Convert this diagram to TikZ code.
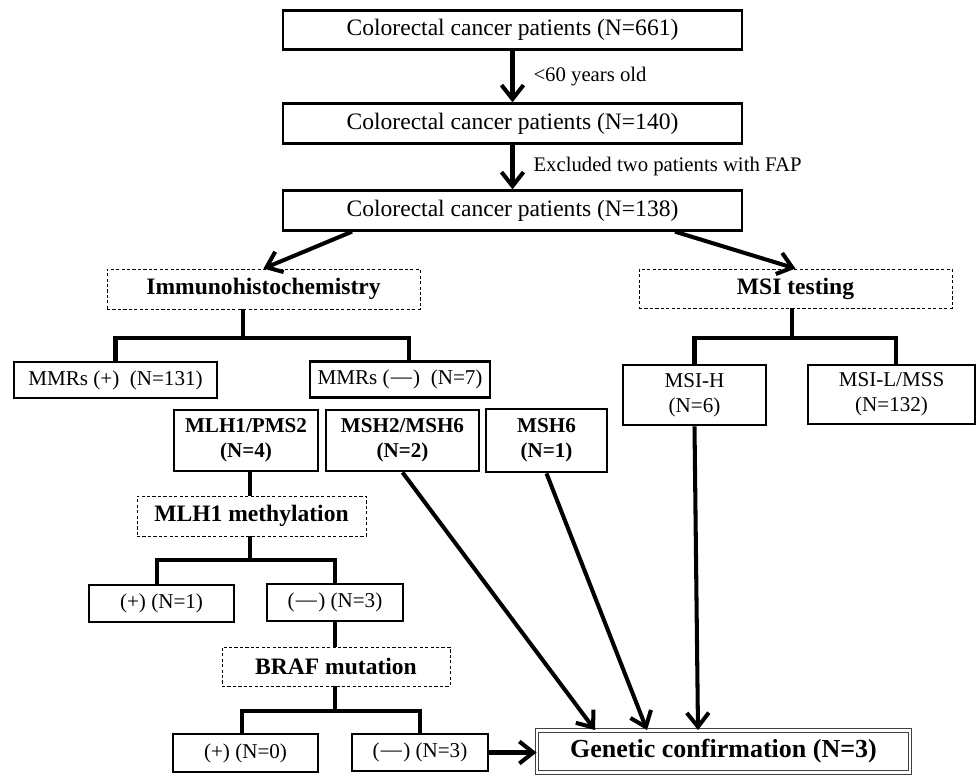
\documentclass[tikz,border=0pt]{standalone}
\usepackage{fontspec}
\setmainfont{Liberation Serif}
\usepackage{tikz}
\usetikzlibrary{shapes,arrows.meta,positioning,calc}
\newcommand{\negsign}{(\kern0.06em\raisebox{0.07em}{—}\kern0.06em)}

\begin{document}
\begin{tikzpicture}[
  x=0.2mm, y=-0.2mm,
  box/.style={rectangle, draw, line width=1.6pt, inner sep=0pt, align=center, font=\fontsize{12}{14.2}\selectfont},
  bigbox/.style={box, minimum width=91.8mm, minimum height=7.9mm, font=\fontsize{13.4}{16}\selectfont},
  bbox/.style={box, font=\bfseries\fontsize{12}{14.2}\selectfont},
  testbox/.style={rectangle, draw, line width=0.5pt, dash pattern=on 1.8pt off 1.3pt, inner sep=0pt, align=center, font=\bfseries\fontsize{13.4}{16}\selectfont},
  final/.style={rectangle, draw=black!75, line width=0.5pt, double, double distance=1.3pt, inner sep=0pt, font=\bfseries\fontsize{14.8}{17}\selectfont},
  lbl/.style={inner sep=0pt, font=\fontsize{11.8}{14}\selectfont},
  arrow/.style={-{Straight Barb[length=2.8mm,width=4.4mm]}, line width=2.3pt},
  tree/.style={line width=2.3pt}
]
  \useasboundingbox (0,0) rectangle (976,775);

  % patient selection
  \node[bigbox] (p661) at (512.5,30) {Colorectal cancer patients (N=661)};
  \node[bigbox] (p140) at (512.5,123.5) {Colorectal cancer patients (N=140)};
  \node[bigbox] (p138) at (512.5,210.5) {Colorectal cancer patients (N=138)};
  \draw[arrow] (p661) -- node[lbl, midway, right=3.8mm] {\textless60 years old} (p140);
  \draw[arrow] (p140) -- node[lbl, midway, right=3.8mm] {Excluded two patients with FAP} (p138);

  % two screening arms
  \node[testbox, minimum width=62.6mm, minimum height=8mm] (ihc) at (263.5,289) {Immunohistochemistry};
  \node[testbox, minimum width=62.6mm, minimum height=7.8mm] (msi) at (795.5,288.5) {MSI testing};
  \draw[arrow] ([xshift=-32.1mm]p138.south) -- (ihc.north);
  \draw[arrow] ([xshift=32.5mm]p138.south) -- (msi.north);

  % IHC results
  \node[box, minimum width=40.6mm, minimum height=7.2mm] (mmrpos) at (115.5,380) {MMRs (+)\ \ (N=131)};
  \node[box, minimum width=36mm, minimum height=7.2mm] (mmrneg) at (400,379.5) {MMRs \negsign\ \ (N=7)};
  \coordinate (ihcfork) at (243,338);
  \draw[tree] (ihc.south -| ihcfork) -- (ihcfork);
  \draw[tree] (mmrpos.north) |- (ihcfork) -| ([xshift=1.8mm]mmrneg.north);

  % MSI results
  \node[box, minimum width=28.6mm, minimum height=12mm] (msih) at (694.5,395) {MSI-H\\(N=6)};
  \node[box, minimum width=33.4mm, minimum height=11.8mm] (msil) at (891.5,394.5) {MSI-L/MSS\\(N=132)};
  \coordinate (msifork) at (792,338);
  \draw[tree] (msi.south -| msifork) -- (msifork);
  \draw[tree] (msih.north) |- (msifork) -| ([xshift=0.9mm]msil.north);

  % lost proteins
  \node[bbox, minimum width=28.8mm, minimum height=12.2mm] (mlh) at (246,440.5) {MLH1/PMS2\\(N=4)};
  \node[bbox, minimum width=30.6mm, minimum height=12.2mm] (msh26) at (402.5,440.5) {MSH2/MSH6\\(N=2)};
  \node[bbox, minimum width=24.2mm, minimum height=12.6mm] (msh6) at (546.5,440.5) {MSH6\\(N=1)};

  % MLH1 methylation
  \node[testbox, minimum width=45.8mm, minimum height=8mm] (methyl) at (251.5,516) {MLH1 methylation};
  \node[box, minimum width=29mm, minimum height=7.4mm] (methpos) at (161.5,603.5) {(+) (N=1)};
  \node[box, minimum width=27.2mm, minimum height=7.4mm] (methneg) at (335,602.5) {\negsign\ (N=3)};
  \coordinate (methfork) at (250,560);
  \draw[tree] (mlh.south -| methfork) -- (methyl.north -| methfork);
  \draw[tree] (methyl.south -| methfork) -- (methfork);
  \draw[tree] ([xshift=-0.9mm]methpos.north) |- (methfork) -| (methneg.north);

  % BRAF mutation
  \node[testbox, minimum width=45.6mm, minimum height=7.8mm] (braf) at (336,666.5) {BRAF mutation};
  \node[box, minimum width=29mm, minimum height=7.6mm] (brafpos) at (245.5,753) {(+) (N=0)};
  \node[box, minimum width=27.2mm, minimum height=7.4mm] (brafneg) at (420,752.5) {\negsign\ (N=3)};
  \coordinate (braffork) at (335,711);
  \draw[tree] (methneg.south) -- (methneg.south |- braf.north);
  \draw[tree] (braf.south -| braffork) -- (braffork);
  \draw[tree] ([xshift=-0.7mm]brafpos.north) |- (braffork) -| (brafneg.north);

  % confirmation
  \node[final, minimum width=74.6mm, minimum height=8.4mm] (gen) at (723.5,751.5) {Genetic confirmation (N=3)};
  \draw[arrow] (brafneg.east) -- (brafneg.east -| gen.west);
  \draw[arrow] (msh26.south) -- ([xshift=-25.7mm]gen.north);
  \draw[arrow] (msh6.south) -- ([xshift=-15.3mm]gen.north);
  \draw[arrow] (msih.south) -- ([xshift=-5.1mm]gen.north);
\end{tikzpicture}
\end{document}
